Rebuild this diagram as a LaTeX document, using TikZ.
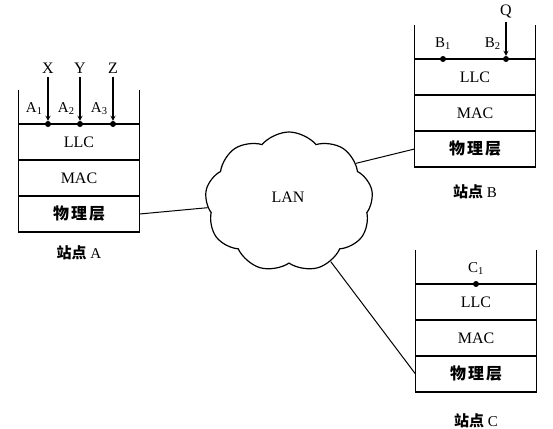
\documentclass[tikz,border=0pt]{standalone}
\usepackage{fontspec}
\setmainfont{Liberation Serif}
\newfontfamily\cjk{Noto Sans CJK SC}
\usetikzlibrary{positioning,shapes.symbols}

\newcommand{\phylabel}{{\cjk\bfseries 物\hspace{2pt}理\hspace{2pt}层}}

\begin{document}
\begin{tikzpicture}[%
    x=1pt, y=-1pt,
    >=stealth,
    font=\fontsize{16}{18}\selectfont,
    layer/.style={%
      rectangle,
      draw,
      line width=1.4pt,
      minimum width=121pt,
      minimum height=36pt,
      inner sep=0pt,
      outer sep=0pt
    },
    wall/.style={line width=1.4pt},
    dot/.style={circle, fill, inner sep=0pt, minimum size=6pt},
    port/.style={inner sep=1pt, font=\fontsize{15}{17}\selectfont},
    station/.style={inner sep=1pt, font=\fontsize{15}{17}\selectfont},
    link/.style={line width=1pt}
  ]
    \useasboundingbox (0,0) rectangle (553,428);

    % station A
    \node[layer] (llcA) at (79,142)        {LLC};
    \node[layer] (macA) [below=0pt of llcA] {MAC};
    \node[layer] (phyA) [below=0pt of macA] {\phylabel};
    \draw[wall] (llcA.north west) -- +(0,-34);
    \draw[wall] (llcA.north east) -- +(0,-34);
    \node[dot] (a1) at (48,124)  {};
    \node[dot] (a2) at (80,124)  {};
    \node[dot] (a3) at (113,124) {};
    \node (x) at (48,68)  {X};
    \node (y) at (80,68)  {Y};
    \node (z) at (113,68) {Z};
    \node[port, above left=6pt and 2pt of a1] {A\textsubscript{1}};
    \node[port, above left=6pt and 2pt of a2] {A\textsubscript{2}};
    \node[port, above left=6pt and 2pt of a3] {A\textsubscript{3}};
    \node[station] (nameA) [below=12pt of phyA] {{\cjk\bfseries 站点} A};

    % station B
    \node[layer] (llcB) at (475,77)        {LLC};
    \node[layer] (macB) [below=0pt of llcB] {MAC};
    \node[layer] (phyB) [below=0pt of macB] {\phylabel};
    \draw[wall] (llcB.north west) -- +(0,-34);
    \draw[wall] (llcB.north east) -- +(0,-34);
    \node[dot] (b1) at (443,59) {};
    \node[dot] (b2) at (506,59) {};
    \node (q) at (506,12) {Q};
    \node[port, above=5pt of b1] {B\textsubscript{1}};
    \node[port, above left=6pt and 2pt of b2] {B\textsubscript{2}};
    \node[station] (nameB) [below=16pt of phyB] {{\cjk\bfseries 站点} B};

    % station C
    \node[layer] (llcC) at (476,302)       {LLC};
    \node[layer] (macC) [below=0pt of llcC] {MAC};
    \node[layer] (phyC) [below=0pt of macC] {\phylabel};
    \draw[wall] (llcC.north west) -- +(0,-34);
    \draw[wall] (llcC.north east) -- +(0,-34);
    \node[dot] (c1) at (476,284) {};
    \node[port, above=5pt of c1] {C\textsubscript{1}};
    \node[station] (nameC) [below=20pt of phyC] {{\cjk\bfseries 站点} C};

    % LAN
    \node[cloud, draw, line width=1.2pt, cloud puffs=9, cloud puff arc=100, aspect=1.15,
          minimum width=168pt, minimum height=140pt, inner sep=0pt] (lan) at (289,202) {};
    \node at (288,197) {LAN};

    \path[->, line width=1.2pt] (x) edge (a1)
                                (y) edge (a2)
                                (z) edge (a3)
                                (q) edge (b2);

    \draw[link] (phyA.east) -- (lan.184);
    \draw[link] (lan.30)    -- (phyB.west);
    \draw[link] (lan.-55)   -- (phyC.west);
\end{tikzpicture}
\end{document}
